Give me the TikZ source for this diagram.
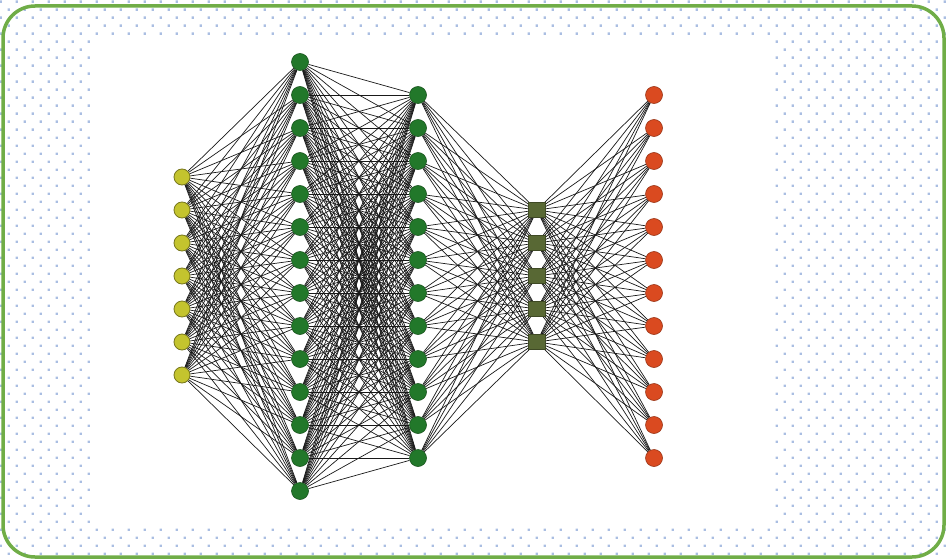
\documentclass[tikz,border=0pt]{standalone}
\usepackage{tikz}
\usetikzlibrary{backgrounds}

\definecolor{framegreen}{RGB}{112,173,71}
\definecolor{dotblue}{RGB}{170,190,226}
\definecolor{inyellow}{RGB}{196,196,46}
\definecolor{hidgreen}{RGB}{34,120,42}
\definecolor{codeolive}{RGB}{88,104,52}
\definecolor{outred}{RGB}{218,74,32}

\begin{document}
\begin{tikzpicture}[
    x=1pt, y=-1pt,
    inunit/.style={circle, draw=inyellow!60!black, line width=0.8pt, fill=inyellow, inner sep=0pt, minimum size=16pt},
    hidunit/.style={circle, draw=hidgreen!70!black, line width=0.6pt, fill=hidgreen, inner sep=0pt, minimum size=17pt},
    codeunit/.style={rectangle, draw=codeolive!70!black, line width=0.6pt, fill=codeolive, inner sep=0pt, minimum width=17pt, minimum height=15pt},
    outunit/.style={circle, draw=outred!70!black, line width=0.6pt, fill=outred, inner sep=0pt, minimum size=17pt},
    link/.style={black!90, line width=0.7pt}
]
\useasboundingbox (0,0) rectangle (947,559);

% units of the five layers
\foreach \i in {1,...,7}
    \node[inunit] (in\i) at (182,{144+33*\i}) {};
\foreach \i in {1,...,14}
    \node[hidunit] (ha\i) at (300,{29+33*\i}) {};
\foreach \i in {1,...,12}
    \node[hidunit] (hb\i) at (418,{62+33*\i}) {};
\foreach \i in {1,...,5}
    \node[codeunit] (code\i) at (537,{177+33*\i}) {};
\foreach \i in {1,...,12}
    \node[outunit] (out\i) at (654,{62+33*\i}) {};

\begin{scope}[on background layer]
% dotted sheet, frame and white picture area
\fill[dotblue] \foreach \r [evaluate=\r as \xo using {mod(\r,2)*8+0.7}] in {0,...,69}
    {\foreach \c in {0,...,59} {({\xo+16*\c-1.2},{1.7+8*\r-1.2}) rectangle ++(2.4,2.4)}};
\draw[framegreen, line width=3.5pt, rounded corners=32pt] (3,6) rectangle (944,557);
\fill[white] (93,38) rectangle (773,526);
% full connections between layers
\foreach \i in {1,...,7}
    \foreach \j in {1,...,14}
        \draw[link] (in\i) -- (ha\j);
\foreach \i in {1,...,14}
    \foreach \j in {1,...,12}
        \draw[link] (ha\i) -- (hb\j);
\foreach \i in {1,...,12}
    \foreach \j in {1,...,5}
        \draw[link] (hb\i) -- (code\j);
\foreach \i in {1,...,5}
    \foreach \j in {1,...,12}
        \draw[link] (code\i) -- (out\j);
\end{scope}
\end{tikzpicture}
\end{document}
